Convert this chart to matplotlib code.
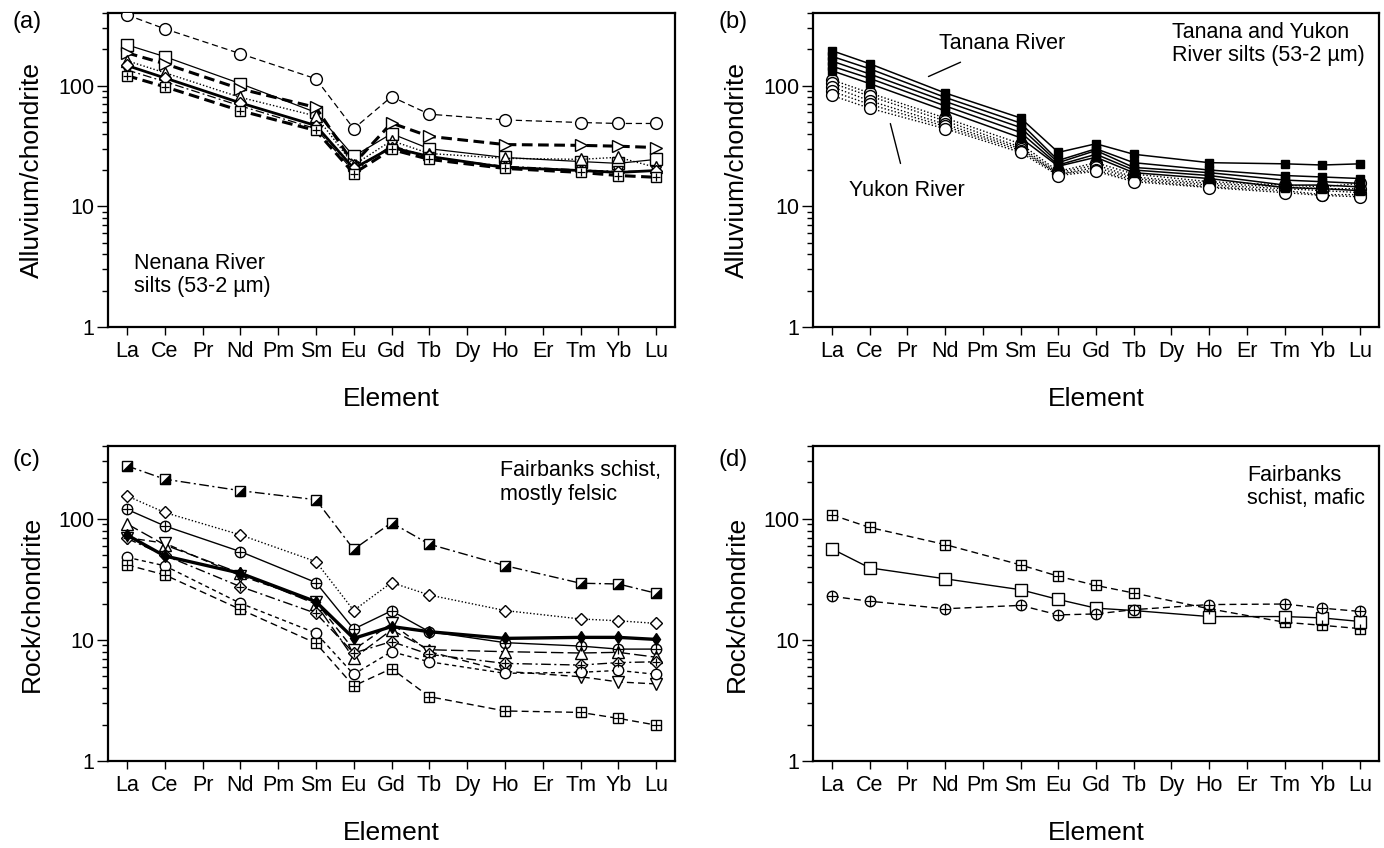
import matplotlib
matplotlib.use("Agg")
import matplotlib.pyplot as plt
import numpy as np
from matplotlib.ticker import LogLocator, NullFormatter, FixedLocator

plt.rcParams['font.family'] = ['Liberation Sans', 'DejaVu Sans']

W, H = 1384, 848

# REE labels on the x axis and the elements actually measured
elements = ['La', 'Ce', 'Pr', 'Nd', 'Pm', 'Sm', 'Eu', 'Gd', 'Tb', 'Dy', 'Ho', 'Er', 'Tm', 'Yb', 'Lu']
measured = ['La', 'Ce', 'Nd', 'Sm', 'Eu', 'Gd', 'Tb', 'Ho', 'Tm', 'Yb', 'Lu']

# (a) Nenana River silts
a_circle = [386, 296, 184, 114, 44, 81, 58, 52, 49.5, 48.6, 48.6]
a_square = [218, 174, 104, 60, 26, 40, 30, 25.4, 23.5, 22.7, 24.5]
a_rtri = [187, 152, 94, 66, 22.5, 49, 38, 32.5, 32, 31.5, 30.7]
a_utri = [161, 128, 80, 56, 22, 35, 27.4, 25, 24.5, 25.5, 21]
a_diam = [147, 116, 72, 46.7, 20.6, 30.7, 25.9, 21, 19.8, 19.1, 19.8]
a_dtri = [135, 108, 68, 44, 19.5, 32, 25.5, 21.5, 20, 19.5, 19.5]
a_plsq = [121, 98, 62, 42.5, 18.7, 29.6, 24.5, 20.6, 19.1, 18, 17.4]

# (b) Tanana (solid, filled squares) and Yukon (dotted, open circles)
tanana = [
    [195, 152, 87, 54, 28, 33, 27, 23, 22.5, 22, 22.5],
    [175, 138, 80, 49, 24, 30, 23, 20, 18, 17.5, 17],
    [160, 125, 74, 45, 23, 29, 21, 19, 16.5, 16, 15.5],
    [145, 115, 68, 41, 22, 27, 20, 18, 15, 15, 14.5],
    [133, 104, 62, 37, 21.5, 25.5, 19, 17, 14.3, 14, 13.5],
]
yukon = [
    [112, 87, 54, 33, 19.5, 23, 18.5, 16, 15, 14.5, 15.5],
    [105, 82, 51, 31, 19, 22, 17.5, 15.5, 14.5, 14, 14],
    [98, 75, 48, 30, 18.5, 21, 17, 15, 14, 13.5, 13],
    [90, 70, 46, 29, 18.5, 20, 16.5, 14.5, 13.5, 12.5, 12.5],
    [83, 65, 44, 28, 18, 19.5, 16, 14.3, 13, 12.3, 12],
]

# (c) Fairbanks schist, mostly felsic
c_hsq = [274, 213, 171, 144, 56, 93, 61.8, 41.1, 29.4, 29, 24.3]
c_diam = [155, 113, 73.8, 44.4, 17.5, 29.8, 23.5, 17.5, 14.9, 14.4, 13.7]
c_ocross = [120, 87.5, 53.7, 29.8, 12.3, 17.4, 11.7, 9.5, 8.9, 8.4, 8.4]
c_thick = [73.8, 49.4, 35.6, 20.7, 10.3, 12.9, 11.7, 10.3, 10.5, 10.5, 10.1]
c_utri = [91, 61, 35.6, 19.8, 7.06, 12.1, 8.3, 8.0, 7.8, 7.9, 7.2]
c_dtri = [70, 63, 34, 20.7, 8.3, 13.7, 8.0, 5.5, 4.97, 4.5, 4.33]
c_dplus = [69, 50, 27.6, 16.6, 7.8, 9.7, 7.6, 6.4, 6.2, 6.5, 6.6]
c_circ = [48.2, 41, 20.1, 11.4, 5.2, 8.0, 6.6, 5.3, 5.4, 5.6, 5.2]
c_plsq = [41.7, 34.5, 17.9, 9.4, 4.17, 5.8, 3.4, 2.59, 2.52, 2.25, 1.98]

# (d) Fairbanks schist, mafic
d_plsq = [108, 85, 61.4, 41.7, 33.6, 28.2, 24.4, 18.1, 14.0, 13.2, 12.4]
d_square = [56.6, 39.4, 32, 26, 21.6, 18.3, 17.5, 15.6, 15.6, 15.2, 14.2]
d_ocross = [22.9, 20.9, 18.1, 19.3, 16.1, 16.4, 17.8, 19.6, 19.8, 18.3, 17.2]

xpos = [elements.index(e) for e in measured]

DASH = (0, (5, 3))
SDASH = (0, (3, 2.5))
THICKDASH = (0, (3.5, 1.8))
DOT = (0, (1, 1.5))
DASHDOT = (0, (7, 2.5, 1.5, 2.5))
LONGDASH = (0, (9, 3))

HALF_TRI = [(-1, -1), (1, -1), (1, 1), (-1, -1)]


def make_axes(left, top, right, bottom):
    return fig.add_axes([left / W, 1 - bottom / H, (right - left) / W, (bottom - top) / H])


def style_axes(ax, ylabel):
    ax.set_yscale('log')
    ax.set_ylim(1, 400)
    ax.set_xlim(-0.5, 14.5)
    ax.set_xticks(range(len(elements)))
    ax.set_xticklabels(elements, fontsize=15.5)
    ax.yaxis.set_major_locator(FixedLocator([1, 10, 100]))
    ax.set_yticklabels(['1', '10', '100'], fontsize=15.5)
    ax.yaxis.set_minor_locator(LogLocator(base=10, subs=np.arange(2, 10)))
    ax.yaxis.set_minor_formatter(NullFormatter())
    ax.tick_params(axis='x', direction='out', length=6, width=1, pad=4)
    ax.tick_params(axis='y', which='major', direction='out', length=8, width=1, pad=2)
    ax.tick_params(axis='y', which='minor', direction='out', length=4, width=1)
    for s in ax.spines.values():
        s.set_linewidth(1.6)
    ax.set_ylabel(ylabel, fontsize=19, labelpad=10)
    ax.set_xlabel('Element', fontsize=19, labelpad=18)


def series(ax, y, marker, ls, lw, ms, face='white', plus=False, half=False, z=3):
    ax.plot(xpos, y, color='black', linestyle=ls, linewidth=lw, marker=marker,
            markersize=ms, markerfacecolor=face, markeredgecolor='black',
            markeredgewidth=1.0, zorder=z)
    if plus:
        ax.plot(xpos, y, linestyle='none', marker='+', markersize=ms * 0.95,
                color='black', markeredgewidth=0.9, zorder=z + 0.1)
    if half:
        ax.plot(xpos, y, linestyle='none', marker=HALF_TRI, markersize=ms,
                color='black', markeredgewidth=0.5, zorder=z + 0.1)


fig = plt.figure(figsize=(W / 100, H / 100), dpi=100)

# ---------------- (a) ----------------
ax = make_axes(108, 13, 675, 327)
series(ax, a_circle, 'o', DASH, 0.9, 8.5)
series(ax, a_square, 's', '-', 0.9, 8.5)
series(ax, a_rtri, '>', THICKDASH, 2.2, 8.5)
series(ax, a_utri, '^', DOT, 1.0, 8)
series(ax, a_dtri, 'v', DASHDOT, 0.9, 7)
series(ax, a_diam, 'D', '-', 2.0, 6.5)
series(ax, a_plsq, 's', THICKDASH, 2.2, 6.5, plus=True)
style_axes(ax, 'Alluvium/chondrite')
ax.text(0.045, 0.095, 'Nenana River\nsilts (53-2 µm)', transform=ax.transAxes,
        fontsize=15.5, ha='left', va='bottom', linespacing=1.15)
fig.text(13 / W, 1 - 22 / H, '(a)', fontsize=17, ha='left', va='center')

# ---------------- (b) ----------------
ax = make_axes(813, 13, 1379, 327)
for y in yukon:
    series(ax, y, 'o', DOT, 1.0, 8.5)
for y in tanana:
    series(ax, y, 's', '-', 1.1, 6, face='black', z=4)
style_axes(ax, 'Alluvium/chondrite')
ax.text(0.975, 0.972, 'Tanana and Yukon\nRiver silts (53-2 µm)', transform=ax.transAxes,
        fontsize=15.5, ha='right', va='top', multialignment='left', linespacing=1.15)
ax.annotate('Tanana River', xy=(2.56, 119), xytext=(4.5, 222), fontsize=15.5,
            ha='center', va='center',
            arrowprops=dict(arrowstyle='-', color='black', lw=1, shrinkA=9, shrinkB=0))
ax.annotate('Yukon River', xy=(1.55, 48.5), xytext=(2.0, 13.6), fontsize=15.5,
            ha='center', va='center',
            arrowprops=dict(arrowstyle='-', color='black', lw=1, shrinkA=10, shrinkB=0))
fig.text(718 / W, 1 - 22 / H, '(b)', fontsize=17, ha='left', va='center')

# ---------------- (c) ----------------
ax = make_axes(108, 446, 675, 761)
series(ax, c_hsq, 's', DASHDOT, 1.0, 7.5, half=True)
series(ax, c_diam, 'D', DOT, 1.0, 6.5)
series(ax, c_ocross, 'o', '-', 1.0, 7.5, plus=True)
series(ax, c_utri, '^', LONGDASH, 1.0, 8)
series(ax, c_dtri, 'v', DASH, 1.0, 8)
series(ax, c_dplus, 'D', DASHDOT, 1.0, 6, plus=True)
series(ax, c_circ, 'o', SDASH, 1.0, 7.5)
series(ax, c_plsq, 's', DASH, 1.0, 7, plus=True)
series(ax, c_thick, 'd', '-', 2.4, 6, face='black', z=5)
style_axes(ax, 'Rock/chondrite')
ax.text(0.975, 0.955, 'Fairbanks schist,\nmostly felsic', transform=ax.transAxes,
        fontsize=15.5, ha='right', va='top', multialignment='left', linespacing=1.15)
fig.text(13 / W, 1 - 460 / H, '(c)', fontsize=17, ha='left', va='center')

# ---------------- (d) ----------------
ax = make_axes(813, 446, 1379, 761)
series(ax, d_plsq, 's', DASH, 1.0, 7, plus=True)
series(ax, d_square, 's', '-', 1.0, 9)
series(ax, d_ocross, 'o', DASH, 1.0, 7.5, plus=True)
style_axes(ax, 'Rock/chondrite')
ax.text(0.975, 0.94, 'Fairbanks\nschist, mafic', transform=ax.transAxes,
        fontsize=15.5, ha='right', va='top', multialignment='left', linespacing=1.15)
fig.text(718 / W, 1 - 460 / H, '(d)', fontsize=17, ha='left', va='center')

fig.savefig('out.png', dpi=100)
